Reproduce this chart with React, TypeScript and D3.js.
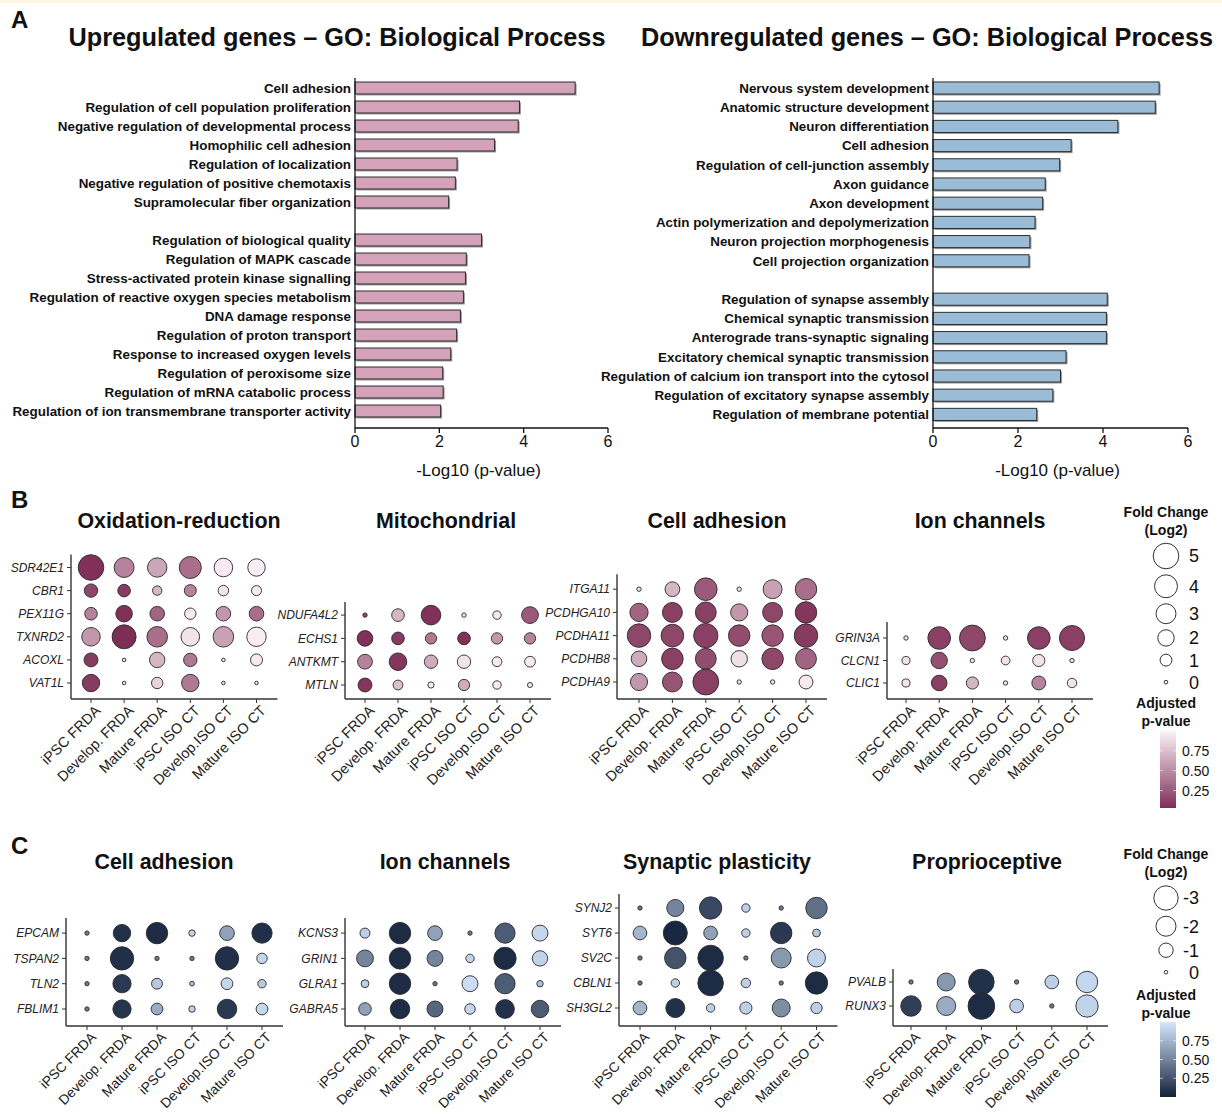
import React from 'react';
import * as d3 from 'd3';

const FONT = '"Liberation Sans", Arial, Helvetica, sans-serif';

// ---------- Panel A: GO enrichment ----------
const upTermsTop = [
  'Cell adhesion',
  'Regulation of cell population proliferation',
  'Negative regulation of developmental process',
  'Homophilic cell adhesion',
  'Regulation of localization',
  'Negative regulation of positive chemotaxis',
  'Supramolecular fiber organization',
];
const upValuesTop = [5.22, 3.9, 3.87, 3.31, 2.42, 2.38, 2.22];
const upTermsBottom = [
  'Regulation of biological quality',
  'Regulation of MAPK cascade',
  'Stress-activated protein kinase signalling',
  'Regulation of reactive oxygen species metabolism',
  'DNA damage response',
  'Regulation of proton transport',
  'Response to increased oxygen levels',
  'Regulation of peroxisome size',
  'Regulation of mRNA catabolic process',
  'Regulation of ion transmembrane transporter activity',
];
const upValuesBottom = [3.0, 2.64, 2.62, 2.57, 2.5, 2.41, 2.27, 2.08, 2.09, 2.03];

const downTermsTop = [
  'Nervous system development',
  'Anatomic structure development',
  'Neuron differentiation',
  'Cell adhesion',
  'Regulation of cell-junction assembly',
  'Axon guidance',
  'Axon development',
  'Actin polymerization and depolymerization',
  'Neuron projection morphogenesis',
  'Cell projection organization',
];
const downValuesTop = [5.32, 5.23, 4.35, 3.25, 2.98, 2.64, 2.58, 2.4, 2.28, 2.26];
const downTermsBottom = [
  'Regulation of synapse assembly',
  'Chemical synaptic transmission',
  'Anterograde trans-synaptic signaling',
  'Excitatory chemical synaptic transmission',
  'Regulation of calcium ion transport into the cytosol',
  'Regulation of excitatory synapse assembly',
  'Regulation of membrane potential',
];
const downValuesBottom = [4.1, 4.08, 4.08, 3.13, 3.0, 2.82, 2.44];
const barTicks = [0, 2, 4, 6];

// ---------- Panels B / C: dot plots ----------
const conditions = ['iPSC FRDA', 'Develop. FRDA', 'Mature FRDA', 'iPSC ISO CT', 'Develop.ISO CT', 'Mature ISO CT'];

const oxGenes = ['SDR42E1', 'CBR1', 'PEX11G', 'TXNRD2', 'ACOXL', 'VAT1L'];
const oxFC = [
  [5.0, 3.0, 2.83, 3.67, 2.59, 2.26],
  [1.3, 1.13, 0.59, 1.02, 0.77, 0.68],
  [1.13, 2.04, 1.56, 0.91, 1.56, 1.56],
  [2.59, 4.38, 3.2, 2.59, 3.2, 2.83],
  [1.42, 0.0, 1.75, 1.3, 0.0, 1.02],
  [2.26, 0.0, 0.91, 2.26, 0.0, 0.0],
];
const oxP = [
  [0.05, 0.45, 0.62, 0.35, 0.95, 0.97],
  [0.15, 0.1, 0.7, 0.45, 0.92, 0.95],
  [0.45, 0.05, 0.3, 0.95, 0.55, 0.35],
  [0.55, 0.03, 0.35, 0.92, 0.6, 0.97],
  [0.1, 0.9, 0.7, 0.4, 0.9, 0.95],
  [0.1, 0.9, 0.85, 0.4, 0.9, 0.9],
];

const mitoGenes = ['NDUFA4L2', 'ECHS1', 'ANTKMT', 'MTLN'];
const mitoFC = [
  [0.05, 1.15, 2.9, 0.05, 0.45, 2.1],
  [1.8, 1.15, 0.9, 1.15, 0.9, 0.9],
  [1.6, 2.3, 1.3, 1.3, 0.65, 0.8],
  [1.4, 0.65, 0.2, 0.9, 0.45, 0.1],
];
const mitoP = [
  [0.15, 0.7, 0.05, 0.9, 0.95, 0.25],
  [0.05, 0.1, 0.4, 0.05, 0.55, 0.45],
  [0.45, 0.07, 0.65, 0.92, 0.95, 0.95],
  [0.07, 0.75, 0.95, 0.65, 0.95, 0.95],
];

const adhGenes = ['ITGA11', 'PCDHGA10', 'PCDHA11', 'PCDHB8', 'PCDHA9'];
const adhFC = [
  [0.05, 1.6, 3.9, 0.05, 2.7, 3.5],
  [2.5, 3.0, 3.3, 2.2, 3.0, 3.5],
  [4.2, 3.9, 4.5, 3.5, 3.5, 4.2],
  [1.8, 3.5, 3.3, 2.0, 3.5, 3.3],
  [2.2, 3.0, 5.1, 0.05, 0.05, 1.4],
];
const adhP = [
  [0.9, 0.7, 0.25, 0.9, 0.6, 0.35],
  [0.3, 0.12, 0.12, 0.55, 0.15, 0.08],
  [0.15, 0.15, 0.12, 0.18, 0.22, 0.1],
  [0.65, 0.12, 0.18, 0.9, 0.15, 0.3],
  [0.55, 0.22, 0.12, 0.9, 0.9, 0.95],
];

const ionGenes = ['GRIN3A', 'CLCN1', 'CLIC1'];
const ionFC = [
  [0.05, 3.9, 5.1, 0.05, 3.9, 4.8],
  [0.4, 2.0, 0.05, 0.5, 1.05, 0.05],
  [0.4, 1.8, 1.05, 0.05, 1.4, 0.6],
];
const ionP = [
  [0.9, 0.12, 0.15, 0.9, 0.12, 0.12],
  [0.92, 0.2, 0.9, 0.92, 0.92, 0.9],
  [0.92, 0.12, 0.7, 0.9, 0.45, 0.92],
];

const dnAdhGenes = ['EPCAM', 'TSPAN2', 'TLN2', 'FBLIM1'];
const dnAdhFC = [
  [-0.03, -1.5, -2.3, -0.15, -1.05, -2.05],
  [-0.03, -2.75, -0.03, -0.03, -2.75, -0.5],
  [-0.03, -1.65, -0.55, -0.05, -0.65, -0.3],
  [-0.03, -1.65, -0.65, -0.15, -1.9, -0.65],
];
const dnAdhP = [
  [0.45, 0.08, 0.05, 0.9, 0.65, 0.07],
  [0.45, 0.07, 0.45, 0.45, 0.07, 0.92],
  [0.45, 0.12, 0.85, 0.8, 0.92, 0.85],
  [0.45, 0.1, 0.7, 0.9, 0.12, 0.92],
];

const dnIonGenes = ['KCNS3', 'GRIN1', 'GLRA1', 'GABRA5'];
const dnIonFC = [
  [-0.45, -2.3, -1.05, -0.03, -2.05, -1.25],
  [-1.4, -2.3, -1.25, -0.3, -2.5, -1.15],
  [-0.25, -2.3, -0.03, -1.25, -2.05, -0.15],
  [-0.75, -1.9, -1.25, -0.5, -1.75, -1.5],
];
const dnIonP = [
  [0.88, 0.05, 0.65, 0.45, 0.3, 0.92],
  [0.5, 0.05, 0.5, 0.9, 0.05, 0.9],
  [0.88, 0.05, 0.45, 0.95, 0.3, 0.8],
  [0.65, 0.05, 0.35, 0.92, 0.08, 0.3],
];

const synGenes = ['SYNJ2', 'SYT6', 'SV2C', 'CBLN1', 'SH3GL2'];
const synFC = [
  [-0.03, -1.45, -2.5, -0.3, -0.03, -2.3],
  [-0.9, -2.9, -0.9, -0.3, -2.3, -0.25],
  [-0.03, -2.3, -3.3, -0.03, -2.0, -1.6],
  [-0.03, -0.3, -3.3, -0.4, -0.03, -2.5],
  [-0.9, -1.8, -0.3, -0.7, -1.6, -0.6],
];
const synP = [
  [0.45, 0.5, 0.2, 0.88, 0.45, 0.4],
  [0.75, 0.03, 0.65, 0.88, 0.12, 0.85],
  [0.45, 0.25, 0.05, 0.45, 0.6, 0.9],
  [0.45, 0.88, 0.05, 0.88, 0.45, 0.05],
  [0.75, 0.08, 0.88, 0.88, 0.55, 0.88],
];

const propGenes = ['PVALB', 'RUNX3'];
const propFC = [
  [-0.03, -1.6, -3.3, -0.03, -0.9, -2.3],
  [-2.1, -1.8, -3.6, -0.9, -0.03, -2.5],
];
const propP = [
  [0.45, 0.6, 0.08, 0.45, 0.88, 0.92],
  [0.15, 0.7, 0.05, 0.88, 0.45, 0.9],
];

const upSizeBreaks = [5, 4, 3, 2, 1, 0];
const downSizeBreaks = [-3, -2, -1, 0];
const pBreaks = [0.75, 0.5, 0.25];

// scales shared by panels
const pinkColor = d3.scaleLinear<string>().domain([0, 1]).range(['#7a2750', '#fcf3f7']);
const blueColor = d3.scaleLinear<string>().domain([0, 1]).range(['#13213a', '#d4e7fd']);
const upSize = d3.scaleRadial().domain([0, 5]).range([1.8, 12.8]);
const downSize = d3.scaleRadial().domain([0, 3]).range([1.8, 12.2]);

function BarPanel({ terms1, vals1, terms2, vals2, x0, x1, firstY, pitch, axisTop, axisY, fill, title, titleX }) {
  const rows = [
    ...terms1.map((t, i) => ({ key: 'a' + i, term: t, value: vals1[i] })),
    { key: 'gap', term: '', value: null },
    ...terms2.map((t, i) => ({ key: 'b' + i, term: t, value: vals2[i] })),
  ];
  const x = d3.scaleLinear().domain([0, 6]).range([x0, x1]);
  const y = d3.scaleBand()
    .domain(rows.map(r => r.key))
    .range([firstY - pitch / 2, firstY - pitch / 2 + rows.length * pitch])
    .paddingInner(0.37)
    .paddingOuter(0.185);

  return (
    <g>
      <text x={titleX} y={46} textAnchor="middle" fontSize={25.3} fontWeight="bold" fill="#111">{title}</text>
      {rows.filter(r => r.value !== null).map(r => (
        <g key={r.key}>
          <rect x={x(0) + 1.5} y={y(r.key)! + 1.5} width={x(r.value!) - x(0)} height={y.bandwidth()} fill="#9a9a9a" />
          <rect x={x(0)} y={y(r.key)} width={x(r.value!) - x(0)} height={y.bandwidth()} fill={fill} stroke="#2e2e2e" strokeWidth={1} />
          <text x={x0 - 4} y={y(r.key)! + y.bandwidth() / 2} dy="0.36em" textAnchor="end" fontSize={13.4} fontWeight="bold" fill="#111">{r.term}</text>
        </g>
      ))}
      <line x1={x0} x2={x0} y1={axisTop} y2={axisY} stroke="#111" strokeWidth={1.3} />
      <line x1={x0} x2={x1} y1={axisY} y2={axisY} stroke="#111" strokeWidth={1.3} />
      {barTicks.map(t => (
        <g key={t}>
          <line x1={x(t)} x2={x(t)} y1={axisY} y2={axisY + 5} stroke="#111" strokeWidth={1.3} />
          <text x={x(t)} y={axisY + 19} textAnchor="middle" fontSize={16} fill="#111">{t}</text>
        </g>
      ))}
      <text x={(x0 + x1) / 2 - 3} y={axisY + 48} textAnchor="middle" fontSize={17} fill="#111">-Log10 (p-value)</text>
    </g>
  );
}

function DotPanel({ title, titleX, titleY, genes, fc, pv, axisX, col0, colStep, axisY, lastGap, rowStep, topGap, color, size, labelSize = 14.5 }) {
  const x = d3.scalePoint<string>().domain(conditions).range([col0, col0 + colStep * (conditions.length - 1)]);
  const lastRow = axisY - lastGap;
  const y = d3.scalePoint<string>().domain(genes).range([lastRow - rowStep * (genes.length - 1), lastRow]);
  const top = y(genes[0])! - topGap;
  const right = x(conditions[conditions.length - 1])! + 21;
  return (
    <g>
      <text x={titleX} y={titleY} textAnchor="middle" fontSize={21.4} fontWeight="bold" fill="#111">{title}</text>
      <line x1={axisX} x2={axisX} y1={top} y2={axisY} stroke="#333" strokeWidth={1.4} />
      <line x1={axisX} x2={right} y1={axisY} y2={axisY} stroke="#333" strokeWidth={1.4} />
      {genes.map(g => (
        <g key={g}>
          <line x1={axisX - 4} x2={axisX} y1={y(g)} y2={y(g)} stroke="#333" strokeWidth={1} />
          <text x={axisX - 7} y={y(g)} dy="0.35em" textAnchor="end" fontSize={12} fontStyle="italic" fill="#222">{g}</text>
        </g>
      ))}
      {conditions.map(c => (
        <g key={c}>
          <line x1={x(c)} x2={x(c)} y1={axisY} y2={axisY + 4} stroke="#333" strokeWidth={1} />
          <text transform={`translate(${x(c)! + 3},${axisY + 5}) rotate(-45)`} dy="0.72em" textAnchor="end" fontSize={labelSize} fill="#222">{c}</text>
        </g>
      ))}
      {genes.map((g, i) => conditions.map((c, j) => (
        <circle key={g + c} cx={x(c)} cy={y(g)} r={size(Math.abs(fc[i][j]))} fill={color(pv[i][j])} stroke="#2a2a2a" strokeWidth={0.9} />
      )))}
    </g>
  );
}

function Legend({ cx, titleY, firstKeyY, breaks, size, pTitleY, barTop, barBottom, barDomain, color, gradId }) {
  // stack size keys the way ggplot does: key height = max(diameter + 6, 22)
  const keyH = (v: number) => Math.max(2 * size(Math.abs(v)) + 6, 22);
  const centers: number[] = [];
  breaks.forEach((b, i) => {
    centers.push(i === 0 ? firstKeyY : centers[i - 1] + (keyH(breaks[i - 1]) + keyH(b)) / 2);
  });
  const yBar = d3.scaleLinear().domain(barDomain).range([barBottom, barTop]);
  const stops = d3.range(0, 1.0001, 0.1).map(t => barDomain[0] + t * (barDomain[1] - barDomain[0]));
  const barX = cx - 6;
  const barW = 16;
  return (
    <g>
      <defs>
        <linearGradient id={gradId} x1="0" y1="1" x2="0" y2="0">
          {stops.map((s, i) => (
            <stop key={i} offset={i / (stops.length - 1)} stopColor={color(s)} />
          ))}
        </linearGradient>
      </defs>
      <text x={cx} y={titleY} textAnchor="middle" fontSize={14} fontWeight="bold" fill="#111">Fold Change</text>
      <text x={cx} y={titleY + 18} textAnchor="middle" fontSize={14} fontWeight="bold" fill="#111">(Log2)</text>
      {breaks.map((b, i) => (
        <g key={b}>
          <circle cx={cx} cy={centers[i]} r={size(Math.abs(b))} fill="#fff" stroke="#333" strokeWidth={1} />
          <text x={cx + 33} y={centers[i]} dy="0.36em" textAnchor="end" fontSize={18} fill="#111">{b}</text>
        </g>
      ))}
      <text x={cx} y={pTitleY} textAnchor="middle" fontSize={14} fontWeight="bold" fill="#111">Adjusted</text>
      <text x={cx} y={pTitleY + 18} textAnchor="middle" fontSize={14} fontWeight="bold" fill="#111">p-value</text>
      <rect x={barX} y={barTop} width={barW} height={barBottom - barTop} fill={`url(#${gradId})`} />
      {pBreaks.map(p => (
        <g key={p}>
          <line x1={barX} x2={barX + 3} y1={yBar(p)} y2={yBar(p)} stroke="#fff" strokeOpacity={0.6} />
          <line x1={barX + barW - 3} x2={barX + barW} y1={yBar(p)} y2={yBar(p)} stroke="#fff" strokeOpacity={0.6} />
          <text x={barX + barW + 6} y={yBar(p)} dy="0.36em" fontSize={14} fill="#111">{p.toFixed(2)}</text>
        </g>
      ))}
    </g>
  );
}

export default function App() {
  return (
    <svg width={1222} height={1114} style={{ position: 'absolute', left: 0, top: 0, background: '#fff' }} fontFamily={FONT}>
      <rect width={1222} height={1114} fill="#fff" />
      <rect width={1222} height={3} fill="#fdf7e3" />

      <text x={11} y={28} fontSize={24} fontWeight="bold" fill="#111">A</text>
      <BarPanel title="Upregulated genes – GO: Biological Process" titleX={337}
        terms1={upTermsTop} vals1={upValuesTop} terms2={upTermsBottom} vals2={upValuesBottom}
        x0={355} x1={608} firstY={88} pitch={19} axisTop={78} axisY={428} fill="#d4a2b9" />
      <BarPanel title="Downregulated genes – GO: Biological Process" titleX={927}
        terms1={downTermsTop} vals1={downValuesTop} terms2={downTermsBottom} vals2={downValuesBottom}
        x0={933} x1={1188} firstY={88} pitch={19.2} axisTop={78} axisY={428} fill="#9bbcd6" />

      <text x={11} y={508} fontSize={24} fontWeight="bold" fill="#111">B</text>
      <DotPanel title="Oxidation-reduction" titleX={179} titleY={528} genes={oxGenes} fc={oxFC} pv={oxP}
        axisX={71} col0={91} colStep={33.1} axisY={699} lastGap={16} rowStep={23.1} topGap={13} color={pinkColor} size={upSize} />
      <DotPanel title="Mitochondrial" titleX={446} titleY={528} genes={mitoGenes} fc={mitoFC} pv={mitoP}
        axisX={345} col0={365} colStep={33} axisY={699} lastGap={14} rowStep={23.3} topGap={13} color={pinkColor} size={upSize} />
      <DotPanel title="Cell adhesion" titleX={717} titleY={528} genes={adhGenes} fc={adhFC} pv={adhP}
        axisX={617} col0={639} colStep={33.4} axisY={699} lastGap={17} rowStep={23.2} topGap={15} color={pinkColor} size={upSize} />
      <DotPanel title="Ion channels" titleX={980} titleY={528} genes={ionGenes} fc={ionFC} pv={ionP}
        axisX={887} col0={906} colStep={33.2} axisY={699} lastGap={16} rowStep={22.5} topGap={16} color={pinkColor} size={upSize} />
      <Legend cx={1166} titleY={517} firstKeyY={556} breaks={upSizeBreaks} size={upSize}
        pTitleY={708} barTop={731} barBottom={808} barDomain={[0.03, 1.0]} color={pinkColor} gradId="pinkGrad" />

      <text x={11} y={854} fontSize={24} fontWeight="bold" fill="#111">C</text>
      <DotPanel title="Cell adhesion" titleX={164} titleY={869} genes={dnAdhGenes} fc={dnAdhFC} pv={dnAdhP}
        axisX={66} col0={87} colStep={35} axisY={1026} lastGap={17} rowStep={25.3} topGap={15} color={blueColor} size={downSize} labelSize={13.8} />
      <DotPanel title="Ion channels" titleX={445} titleY={869} genes={dnIonGenes} fc={dnIonFC} pv={dnIonP}
        axisX={345} col0={365} colStep={35} axisY={1026} lastGap={17} rowStep={25.3} topGap={15} color={blueColor} size={downSize} labelSize={13.8} />
      <DotPanel title="Synaptic plasticity" titleX={717} titleY={869} genes={synGenes} fc={synFC} pv={synP}
        axisX={619} col0={640} colStep={35.3} axisY={1026} lastGap={18} rowStep={25} topGap={14} color={blueColor} size={downSize} labelSize={13.8} />
      <DotPanel title="Proprioceptive" titleX={987} titleY={869} genes={propGenes} fc={propFC} pv={propP}
        axisX={893} col0={911} colStep={35.2} axisY={1026} lastGap={20} rowStep={24} topGap={13} color={blueColor} size={downSize} labelSize={13.8} />
      <Legend cx={1166} titleY={859} firstKeyY={898} breaks={downSizeBreaks} size={downSize}
        pTitleY={1000} barTop={1022} barBottom={1097} barDomain={[0.0, 1.0]} color={blueColor} gradId="blueGrad" />
    </svg>
  );
}
